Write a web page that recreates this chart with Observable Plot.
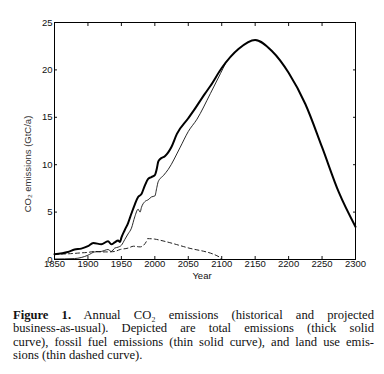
<!DOCTYPE html>
<html>
<head>
<meta charset="utf-8">
<script src="https://cdn.jsdelivr.net/npm/d3@7"></script>
<script src="https://cdn.jsdelivr.net/npm/@observablehq/plot@0.6"></script>
<style>
  html, body { margin: 0; padding: 0; background: #fff; }
  #chart { width: 384px; }
  #caption {
    position: absolute; left: 13px; top: 309px; width: 361px;
    font-family: "Liberation Serif", "DejaVu Serif", serif;
    font-size: 12.6px; line-height: 13.4px; color: #111;
  }
  #caption div { text-align: justify; text-align-last: justify; white-space: nowrap; }
  #caption div.last { text-align-last: left; }
</style>
</head>
<body>
<div id="chart"></div>
<div id="caption">
  <div><b>Figure 1.</b> Annual CO₂ emissions (historical and projected</div>
  <div>business-as-usual). Depicted are total emissions (thick solid</div>
  <div>curve), fossil fuel emissions (thin solid curve), and land use emis-</div>
  <div class="last">sions (thin dashed curve).</div>
</div>
<script>
// Total emissions (thick solid)
const totalYears = [1850,1870,1880,1890,1900,1908,1920,1930,1935,1940,1945,1948,1950,1955,1960,1965,1970,1975,1980,1985,1990,1995,2000,2003,2005,2008,2015,2020,2025,2033,2050,2058,2075,2083,2100,2125,2150,2175,2200,2225,2250,2275,2300];
const totalValues = [0.56,0.8,1.05,1.15,1.4,1.75,1.6,1.93,1.6,1.8,2.0,1.85,2.3,3.1,3.85,4.85,5.8,6.6,6.9,7.8,8.5,8.7,8.9,9.6,10.3,10.6,10.9,11.3,11.9,13.25,14.9,15.7,17.5,18.3,20.2,22.2,23.15,22.0,19.7,16.4,11.85,7.1,3.45];

// Fossil fuel emissions (thin solid)
const fossilYears = [1850,1880,1900,1910,1920,1930,1935,1940,1945,1950,1955,1960,1965,1970,1975,1978,1980,1985,1990,1995,2000,2003,2005,2013,2020,2038,2050,2063,2083,2098,2105];
const fossilValues = [0.05,0.1,0.45,0.8,0.85,1.05,0.85,1.2,1.3,1.5,2.1,2.7,3.3,4.5,5.3,5.0,5.5,6.1,6.3,6.6,6.7,7.6,8.2,8.87,9.5,11.85,13.5,14.8,17.5,19.6,20.6];

// Land use emissions (thin dashed)
const landYears = [1850,1870,1890,1900,1910,1920,1930,1940,1948,1960,1968,1978,1987,1989,2000,2008,2048,2098,2100];
const landValues = [0.55,0.6,0.7,0.75,0.85,0.8,0.8,0.85,1.05,1.2,1.4,1.33,1.85,2.2,2.15,2.03,1.26,0.2,0.0];

const xTicks = [1850,1900,1950,2000,2050,2100,2150,2200,2250,2300];
const yTicks = [0,5,10,15,20,25];
const xLabel = "Year";
const yLabel = "CO₂ emissions (GtC/a)";

const toRows = (years, values) => years.map((y, i) => ({year: y, value: values[i]}));
const total = toRows(totalYears, totalValues);
const fossil = toRows(fossilYears, fossilValues);
const land = toRows(landYears, landValues);

const chart = Plot.plot({
  width: 384,
  height: 290,
  marginLeft: 54,
  marginRight: 29,
  marginTop: 22,
  marginBottom: 31,
  style: {fontFamily: "'Liberation Sans', Arial, sans-serif", fontSize: "9.5px", color: "#111", background: "#fff"},
  x: {domain: [1850, 2300]},
  y: {domain: [0, 25]},
  marks: [
    Plot.axisX({anchor: "bottom", ticks: xTicks, tickSize: -3, tickPadding: 4, tickFormat: d => String(d), label: null}),
    Plot.axisX({anchor: "top", ticks: xTicks, tickSize: -3, tickFormat: () => "", label: null}),
    Plot.axisY({anchor: "left", ticks: yTicks, tickSize: -3, tickPadding: 5, tickFormat: d => String(d), label: null}),
    Plot.axisY({anchor: "right", ticks: yTicks, tickSize: -3, tickFormat: () => "", label: null}),
    Plot.line(land, {x: "year", y: "value", stroke: "#222", strokeWidth: 1, strokeDasharray: "4,3", curve: "monotone-x"}),
    Plot.line(fossil, {x: "year", y: "value", stroke: "#111", strokeWidth: 0.9, curve: "monotone-x"}),
    Plot.line(total, {x: "year", y: "value", stroke: "#000", strokeWidth: 2, curve: "monotone-x"}),
    Plot.frame({stroke: "#000", strokeWidth: 1})
  ]
});
document.getElementById("chart").appendChild(chart);

const svg = d3.select(chart);
svg.append("text")
  .attr("transform", "translate(31,164) rotate(-90)")
  .attr("text-anchor", "middle")
  .attr("fill", "#333")
  .attr("font-size", "9.5px")
  .text(yLabel);
svg.append("text")
  .attr("x", 202).attr("y", 279)
  .attr("text-anchor", "middle")
  .attr("fill", "#111")
  .attr("font-size", "9.5px")
  .text(xLabel);
</script>
</body>
</html>
